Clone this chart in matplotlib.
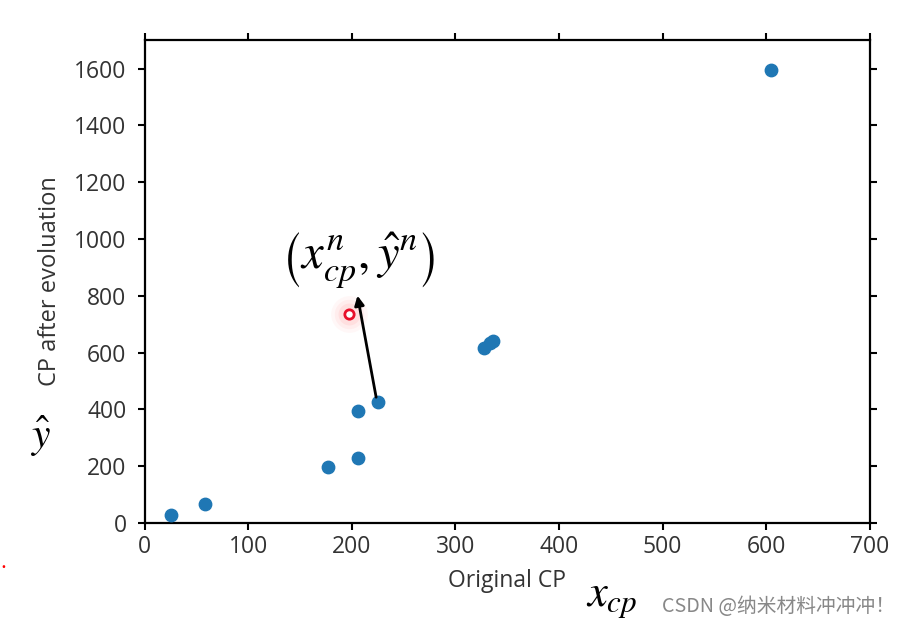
import numpy as np
import matplotlib
matplotlib.use("Agg")
import matplotlib.pyplot as plt

plt.rcParams['font.family'] = ['Open Sans', 'DejaVu Sans']
plt.rcParams['mathtext.fontset'] = 'stix'

# data
x_cp = [25, 58, 177, 206, 206, 225, 328, 333, 336, 605]
y_after = [29, 68, 196, 228, 395, 425, 616, 632, 640, 1595]
pick_x, pick_y = 197, 736
arrow_from = (224, 433)
arrow_to = (205, 810)
xticks = [0, 100, 200, 300, 400, 500, 600, 700]
yticks = [0, 200, 400, 600, 800, 1000, 1200, 1400, 1600]

fig = plt.figure(figsize=(9.04, 6.27), dpi=100)
ax = fig.add_axes([0.160, 0.166, 0.802, 0.770])

ax.scatter(x_cp, y_after, s=80, color='#1f77b4', zorder=3)

# highlighted sample: faint glow + red ring
for s, a in [(700, 0.06), (450, 0.08), (250, 0.12)]:
    ax.scatter([pick_x], [pick_y], s=s, color='#ff8080', alpha=a, lw=0, zorder=2)
ax.scatter([pick_x], [pick_y], s=45, facecolor='white', edgecolor='#e8102a', lw=2, zorder=4)

ax.annotate('', xy=arrow_to, xytext=arrow_from,
            arrowprops=dict(arrowstyle='-|>', color='black', lw=2, mutation_scale=14), zorder=5)
ax.text(206, 925, r'$\left(x_{cp}^{n},\hat{y}^{n}\right)$', fontsize=35,
        ha='center', va='center', zorder=6)

ax.set_xlim(0, 700)
ax.set_ylim(0, 1700)
ax.set_xticks(xticks)
ax.set_yticks(yticks)
ax.tick_params(direction='out', length=5, width=1.5, labelsize=16.5, colors='black',
               labelcolor='#333333', top=True, right=True)
ax.tick_params(axis='y', pad=8)
ax.tick_params(axis='x', pad=4)
for sp in ax.spines.values():
    sp.set_linewidth(1.6)

ax.set_xlabel('Original CP', fontsize=16.5, color='#333333', labelpad=7)
ax.set_ylabel('CP after evoluation', fontsize=17, color='#333333', labelpad=9)

fig.text(40 / 904, 1 - 437 / 627, r'$\hat{y}$', fontsize=30, ha='center', va='center')
fig.text(612 / 904, 1 - 598 / 627, r'$x_{cp}$', fontsize=32, ha='center', va='center')
fig.text(3 / 904, 1 - 568 / 627, '.', color='red', fontsize=16, ha='center', va='baseline')
fig.text(779 / 904, 1 - 607 / 627, 'CSDN @纳米材料冲冲冲！', fontsize=14.2, color='#888888',
         ha='center', va='center', family=['Noto Sans CJK SC', 'DejaVu Sans'])

fig.savefig('out.png', dpi=100)
